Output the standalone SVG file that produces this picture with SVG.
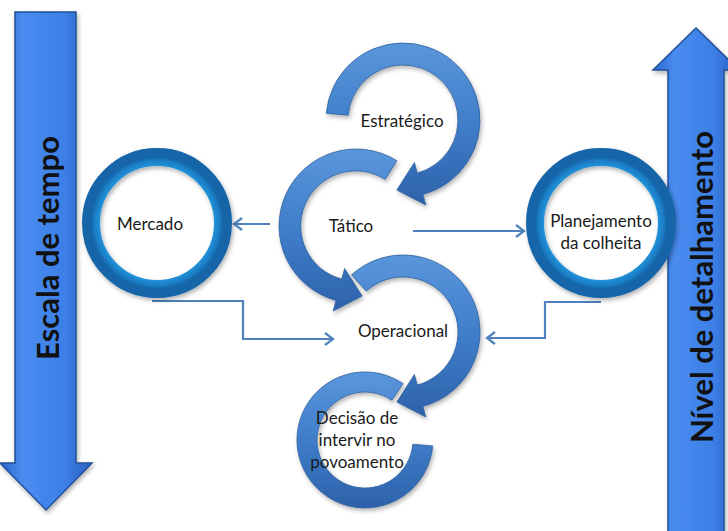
<svg xmlns="http://www.w3.org/2000/svg" width="728" height="531" viewBox="0 0 728 531">
<defs>
<style>
.lbl{font-family:Lato,"Open Sans","Liberation Sans",sans-serif;font-size:17px;fill:#1a1a1a;text-anchor:middle}
.big{font-family:Lato,"Liberation Sans",sans-serif;font-size:31px;font-weight:bold;fill:#111;text-anchor:middle;dominant-baseline:central}
.conn{fill:none;stroke:#4F81BD;stroke-width:2.2}
.arc{fill:url(#arcG);stroke:#2F5F9E;stroke-width:0.8;filter:url(#sh)}
.ring{fill:none;stroke:url(#ringG);stroke-width:18;filter:url(#sh)}
.bar{fill:url(#barG);stroke:#24509A;stroke-width:1.5;filter:url(#sh)}
</style>
<linearGradient id="arcG" x1="0" y1="0" x2="0" y2="1">
<stop offset="0" stop-color="#5A96DB"/>
<stop offset="0.5" stop-color="#3F7DC9"/>
<stop offset="1" stop-color="#2D62AA"/>
</linearGradient>
<linearGradient id="barG" x1="0" y1="0" x2="1" y2="0">
<stop offset="0" stop-color="#2B66CC"/>
<stop offset="0.25" stop-color="#4A8CF0"/>
<stop offset="0.7" stop-color="#3C7FE6"/>
<stop offset="1" stop-color="#2A5FC0"/>
</linearGradient>
<radialGradient id="ringG" cx="0.5" cy="0.5" r="0.5">
<stop offset="0.76" stop-color="#17609F"/>
<stop offset="0.795" stop-color="#38C4F2"/>
<stop offset="0.86" stop-color="#2294DA"/>
<stop offset="0.95" stop-color="#1B7CC4"/>
<stop offset="1" stop-color="#1565A8"/>
</radialGradient>
<filter id="sh" x="-20%" y="-20%" width="140%" height="140%">
<feDropShadow dx="1.5" dy="2.5" stdDeviation="2" flood-color="#000" flood-opacity="0.3"/>
</filter>
<marker id="ah" markerUnits="userSpaceOnUse" markerWidth="14" markerHeight="14" refX="10" refY="7" orient="auto">
<path d="M2,1 L10,7 L2,13" fill="none" stroke="#4F81BD" stroke-width="2.2"/>
</marker>
</defs>

<g id="escala">
<polygon class="bar" points="15,12 76,12 76,463 92,463 46,510 0,463 15,463"/>
<text class="big" transform="translate(47,248) rotate(-90)">Escala de tempo</text>
</g>

<g id="nivel">
<polygon class="bar" points="668,540 668,70 653,70 696,28 739,70 724,70 724,540"/>
<text class="big" transform="translate(701,287) rotate(-90)">Nível de detalhamento</text>
</g>

<g id="connectors">
<line class="conn" x1="270" y1="224" x2="234" y2="224" marker-end="url(#ah)"/>
<line class="conn" x1="413" y1="231" x2="524" y2="231" marker-end="url(#ah)"/>
<polyline class="conn" points="152,301 243,301 243,339 333,339" marker-end="url(#ah)"/>
<polyline class="conn" points="601,302 545,302 545,338 487,338" marker-end="url(#ah)"/>
</g>

<g id="mercado">
<circle class="ring" cx="157" cy="223" r="66"/>
<text class="lbl" x="150" y="230">Mercado</text>
</g>

<g id="planejamento">
<circle class="ring" cx="601" cy="223" r="66"/>
<text class="lbl" x="601" y="227">Planejamento</text>
<text class="lbl" x="601" y="249">da colheita</text>
</g>

<g id="estrategico">
<path class="arc" d="M326.3,113.3 A77,77 0 1 1 422.9,194.4 L425.8,205 L396.9,190 L414.4,162.5 L417.2,173.1 A55,55 0 1 0 348.2,115.2 Z"/>
<text class="lbl" x="402" y="127">Estratégico</text>
</g>

<g id="tatico">
<path class="arc" d="M396.8,160.7 A77,77 0 1 0 336.1,300.4 L333.2,311 L362.1,296 L344.6,268.5 L341.8,279.1 A55,55 0 1 1 385.1,179.4 Z"/>
<text class="lbl" x="351" y="232">Tático</text>
</g>

<g id="operacional">
<path class="arc" d="M351.5,274.8 A77,77 0 1 1 422.9,406.4 L425.8,417 L396.9,402 L414.4,374.5 L417.2,385.1 A55,55 0 1 0 366.2,291.1 Z"/>
<text class="lbl" x="403" y="337">Operacional</text>
</g>

<g id="decisao">
<path class="arc" d="M403,383.6 A68,68 0 1 0 432.7,445.9 L412.8,444.2 A48,48 0 1 1 391.8,400.2 Z"/>
<text class="lbl" x="357" y="424">Decisão de</text>
<text class="lbl" x="357" y="446">intervir no</text>
<text class="lbl" x="357" y="468">povoamento</text>
</g>
</svg>
